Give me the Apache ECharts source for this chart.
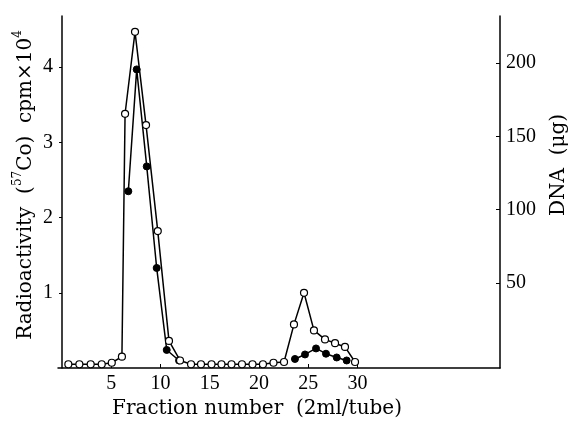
<!DOCTYPE html>
<html>
<head>
    <meta charset="utf-8">
    <title>Fraction plot</title>
    <script src="https://cdn.jsdelivr.net/npm/echarts@6/dist/echarts.min.js"></script>
    <style>
        html, body { margin: 0; padding: 0; background: #fff; }
        #main { width: 571px; height: 421px; }
    </style>
</head>
<body>
<div id="main"></div>
<script type="text/javascript">
    // fraction numbers and values (left axis units, cpm x 10^4)
    var openFractions = [0.64, 1.76, 2.91, 4.03, 5.05, 6.08, 6.4, 7.41, 8.53, 9.72, 10.86, 11.98,
        13.1, 14.11, 15.18, 16.19, 17.21, 18.27, 19.34, 20.4, 21.47, 22.54,
        23.55, 24.57, 25.58, 26.7, 27.72, 28.73, 29.75];
    var openValues = [0.05, 0.05, 0.05, 0.05, 0.07, 0.15, 3.38, 4.47, 3.23, 1.82, 0.36, 0.10,
        0.05, 0.05, 0.05, 0.05, 0.05, 0.05, 0.05, 0.05, 0.07, 0.08,
        0.58, 1.0, 0.50, 0.38, 0.33, 0.28, 0.08];

    var filledPeak1Fractions = [6.73, 7.58, 8.6, 9.61, 10.63, 11.88];
    var filledPeak1Values = [2.35, 3.97, 2.68, 1.33, 0.24, 0.10];
    var filledPeak2Fractions = [23.65, 24.67, 25.79, 26.8, 27.89, 28.9];
    var filledPeak2Values = [0.12, 0.18, 0.26, 0.19, 0.14, 0.10];

    var xTicks = [5, 10, 15, 20, 25, 30];
    var leftTicks = [1, 2, 3, 4];
    var rightTicks = [50, 100, 150, 200];

    function pairs(xs, ys) {
        return xs.map(function (x, i) { return [x, ys[i]]; });
    }

    var serif = '"DejaVu Serif", serif';
    var tickFont = { color: '#000', fontFamily: '"Liberation Serif", serif', fontSize: 20 };

    var myChart = echarts.init(document.getElementById('main'));

    var option = {
        animation: false,
        backgroundColor: '#fff',
        grid: { left: 58, right: 71, top: 16, bottom: 53, containLabel: false },
        xAxis: {
            type: 'value',
            min: -0.41,
            max: 44.47,
            splitLine: { show: false },
            axisLine: { lineStyle: { color: '#000', width: 1.5 } },
            axisTick: { inside: true, length: 4, customValues: xTicks, lineStyle: { color: '#000' } },
            axisLabel: Object.assign({ customValues: xTicks, margin: 6 }, tickFont)
        },
        yAxis: [
            {
                type: 'value',
                min: 0,
                max: 4.68,
                splitLine: { show: false },
                axisLine: { show: true, lineStyle: { color: '#000', width: 1.5 } },
                axisTick: { show: true, inside: false, length: 3, customValues: leftTicks, lineStyle: { color: '#000' } },
                axisLabel: Object.assign({ customValues: leftTicks, margin: 5 }, tickFont)
            },
            {
                type: 'value',
                position: 'right',
                min: -8,
                max: 232,
                splitLine: { show: false },
                axisLine: { show: true, lineStyle: { color: '#000', width: 1.5 } },
                axisTick: { show: true, inside: true, length: 4, customValues: rightTicks, lineStyle: { color: '#000' } },
                axisLabel: Object.assign({ customValues: rightTicks, margin: 6 }, tickFont)
            }
        ],
        graphic: [
            {
                type: 'text',
                x: 257, y: 409,
                style: {
                    text: 'Fraction number  (2ml/tube)',
                    font: '20px ' + serif,
                    fill: '#000',
                    textAlign: 'center',
                    textVerticalAlign: 'middle'
                }
            },
            {
                type: 'text',
                x: 24, y: 185,
                rotation: Math.PI / 2,
                style: {
                    text: '{m|Radioactivity  (}{s|57}{m|Co)  cpm×10}{s|4}',
                    fill: '#000',
                    textAlign: 'center',
                    textVerticalAlign: 'middle',
                    rich: {
                        m: { fontFamily: serif, fontSize: 20, lineHeight: 24, verticalAlign: 'bottom' },
                        s: { fontFamily: serif, fontSize: 12, lineHeight: 24, verticalAlign: 'top' }
                    }
                }
            },
            {
                type: 'text',
                x: 559, y: 165,
                rotation: Math.PI / 2,
                style: {
                    text: 'DNA  (μg)',
                    font: '20px ' + serif,
                    fill: '#000',
                    textAlign: 'center',
                    textVerticalAlign: 'middle'
                }
            }
        ],
        series: [
            {
                name: 'open',
                type: 'line',
                data: pairs(openFractions, openValues),
                symbol: 'circle',
                symbolSize: 7,
                lineStyle: { color: '#000', width: 1.5 },
                itemStyle: { color: '#fff', borderColor: '#000', borderWidth: 1.2 },
                z: 3
            },
            {
                name: 'filled1',
                type: 'line',
                data: pairs(filledPeak1Fractions, filledPeak1Values),
                symbol: 'circle',
                symbolSize: 7,
                lineStyle: { color: '#000', width: 1.5 },
                itemStyle: { color: '#000', borderColor: '#000' },
                z: 2
            },
            {
                name: 'filled2',
                type: 'line',
                data: pairs(filledPeak2Fractions, filledPeak2Values),
                symbol: 'circle',
                symbolSize: 7,
                lineStyle: { color: '#000', width: 1.5 },
                itemStyle: { color: '#000', borderColor: '#000' },
                z: 2
            }
        ]
    };

    myChart.setOption(option);
</script>
</body>
</html>
